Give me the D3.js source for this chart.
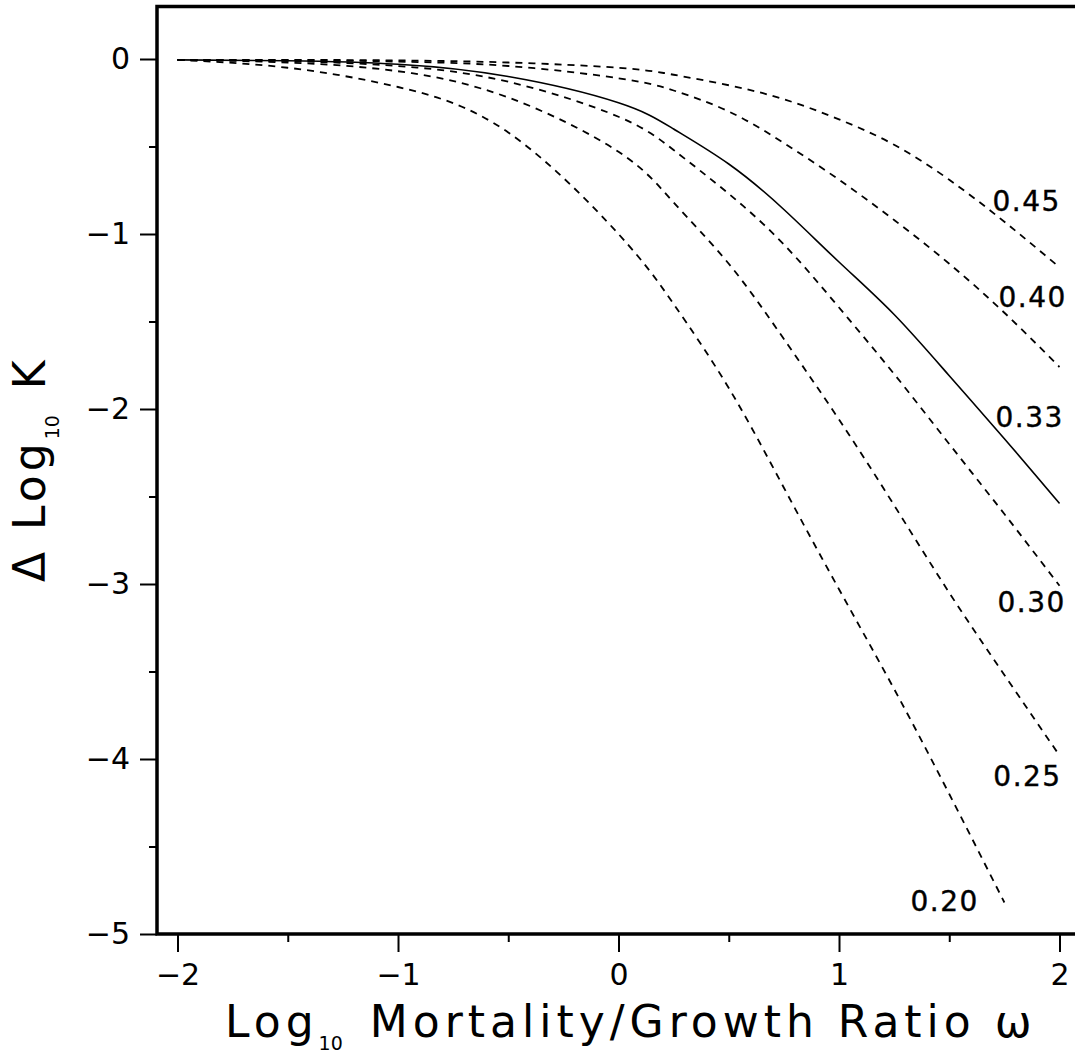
<!DOCTYPE html>
<html>
<head>
<meta charset="utf-8">
<script src="https://cdn.jsdelivr.net/npm/d3@7"></script>
<style>
  body { margin: 0; background: #fff; }
  svg { display: block; font-family: "DejaVu Sans", sans-serif; }
</style>
</head>
<body>
<div id="chart"></div>
<script>
// log10 mortality/growth ratio (x) and Δ log10 K
const omega = [-2, -1.5, -1, -0.5, 0, 0.25, 0.5, 0.75, 1, 1.25, 1.5, 1.75, 2];
const omega20 = [-2, -1.5, -1, -0.5, 0, 0.25, 0.5, 0.75, 1, 1.25, 1.5, 1.75];
const k45 = [-0.005, -0.005, -0.008, -0.02, -0.05, -0.09, -0.15, -0.23, -0.345, -0.49, -0.69, -0.93, -1.19];
const k40 = [-0.005, -0.006, -0.015, -0.04, -0.11, -0.18, -0.30, -0.48, -0.69, -0.92, -1.17, -1.45, -1.76];
const k33 = [-0.005, -0.01, -0.03, -0.10, -0.25, -0.40, -0.60, -0.86, -1.16, -1.46, -1.81, -2.17, -2.54];
const k30 = [-0.005, -0.012, -0.04, -0.13, -0.33, -0.52, -0.77, -1.06, -1.42, -1.80, -2.20, -2.60, -3.01];
const k25 = [-0.005, -0.02, -0.07, -0.22, -0.53, -0.82, -1.17, -1.60, -2.06, -2.55, -3.05, -3.52, -3.98];
const k20 = [-0.005, -0.05, -0.16, -0.42, -1.0, -1.40, -1.88, -2.45, -3.03, -3.60, -4.20, -4.82];

const curveLabels = ["0.45", "0.40", "0.33", "0.30", "0.25", "0.20"];
// where each label sits, in data units (left end, baseline)
const labelX = [1.696, 1.723, 1.71, 1.719, 1.70, 1.324];
const labelY = [-0.869, -1.417, -2.103, -3.16, -4.154, -4.869];

const xTicks = [-2, -1, 0, 1, 2];
const xMinor = [-1.5, -0.5, 0.5, 1.5];
const yTicks = [0, -1, -2, -3, -4, -5];
const yMinor = [-0.5, -1.5, -2.5, -3.5, -4.5];

const series = [
  {x: omega, y: k45, solid: false},
  {x: omega, y: k40, solid: false},
  {x: omega, y: k33, solid: true},
  {x: omega, y: k30, solid: false},
  {x: omega, y: k25, solid: false},
  {x: omega20, y: k20, solid: false}
];

const width = 1075, height = 1054;
const xMin = -2.093, xMax = 2.15, yMin = -5, yMax = 0.3;

const x = d3.scaleLinear().domain([xMin, xMax]).range([157, 157 + (xMax - xMin) * 220.5]);
const y = d3.scaleLinear().domain([yMin, yMax]).range([934, 934 - (yMax - yMin) * 175]);

const svg = d3.create("svg")
    .attr("width", width)
    .attr("height", height)
    .attr("viewBox", [0, 0, width, height]);

// frame
svg.append("rect")
    .attr("x", x(xMin))
    .attr("y", y(yMax))
    .attr("width", x(xMax) - x(xMin))
    .attr("height", y(yMin) - y(yMax))
    .attr("fill", "none")
    .attr("stroke", "#000")
    .attr("stroke-width", 3.5);

const fmt = d => d < 0 ? "\u2212" + Math.abs(d) : String(d);

// y axis
svg.append("g")
    .attr("transform", `translate(${x(xMin)},0)`)
    .call(d3.axisLeft(y).tickValues(yTicks).tickSize(17).tickPadding(10).tickFormat(fmt))
    .call(g => g.select(".domain").remove())
    .call(g => g.selectAll("line").attr("stroke-width", 2))
    .call(g => g.selectAll("text").attr("font-size", 30).attr("font-family", "DejaVu Sans").attr("fill", "#000"));

svg.append("g")
    .attr("transform", `translate(${x(xMin)},0)`)
    .call(d3.axisLeft(y).tickValues(yMinor).tickSize(8).tickFormat(""))
    .call(g => g.select(".domain").remove())
    .call(g => g.selectAll("line").attr("stroke-width", 2));

// x axis
svg.append("g")
    .attr("transform", `translate(0,${y(yMin)})`)
    .call(d3.axisBottom(x).tickValues(xTicks).tickSize(18).tickPadding(12).tickFormat(fmt))
    .call(g => g.select(".domain").remove())
    .call(g => g.selectAll("line").attr("stroke-width", 2))
    .call(g => g.selectAll("text").attr("font-size", 30).attr("font-family", "DejaVu Sans").attr("fill", "#000"));

svg.append("g")
    .attr("transform", `translate(0,${y(yMin)})`)
    .call(d3.axisBottom(x).tickValues(xMinor).tickSize(8).tickFormat(""))
    .call(g => g.select(".domain").remove())
    .call(g => g.selectAll("line").attr("stroke-width", 2));

// curves
const line = d3.line()
    .x(d => x(d[0]))
    .y(d => y(d[1]))
    .curve(d3.curveNatural);

svg.append("g")
    .attr("fill", "none")
    .attr("stroke", "#000")
    .selectAll("path")
    .data(series)
    .join("path")
    .attr("stroke-width", d => d.solid ? 1.6 : 1.8)
    .attr("stroke-dasharray", d => d.solid ? null : "7,6")
    .attr("d", d => line(d3.zip(d.x, d.y)));

// curve labels
svg.append("g")
    .selectAll("text")
    .data(curveLabels)
    .join("text")
    .attr("x", (d, i) => x(labelX[i]))
    .attr("y", (d, i) => y(labelY[i]))
    .attr("font-size", 28)
    .attr("letter-spacing", 1.5)
    .attr("fill", "#000")
    .attr("stroke", "#000")
    .attr("stroke-width", 0.4)
    .text(d => d);

// x axis title
const xt = svg.append("text")
    .attr("x", 225)
    .attr("y", 1037)
    .attr("font-size", 44)
    .attr("fill", "#000");
xt.append("tspan").attr("letter-spacing", 5).text("Log");
xt.append("tspan").attr("font-size", 19).attr("dy", 13).attr("letter-spacing", 0).text("10");
xt.append("tspan").attr("dy", -13).attr("letter-spacing", 5).text("\u2002Mortality/Growth Ratio \u03c9");

// y axis title
const yt = svg.append("text")
    .attr("transform", "translate(45,582) rotate(-90)")
    .attr("font-size", 44)
    .attr("fill", "#000");
yt.append("tspan").attr("letter-spacing", 4).text("\u0394 Log");
yt.append("tspan").attr("font-size", 19).attr("dy", 14).attr("letter-spacing", 0).text("10");
yt.append("tspan").attr("dy", -14).attr("letter-spacing", 4).text("\u2002K");

document.getElementById("chart").appendChild(svg.node());
</script>
</body>
</html>
